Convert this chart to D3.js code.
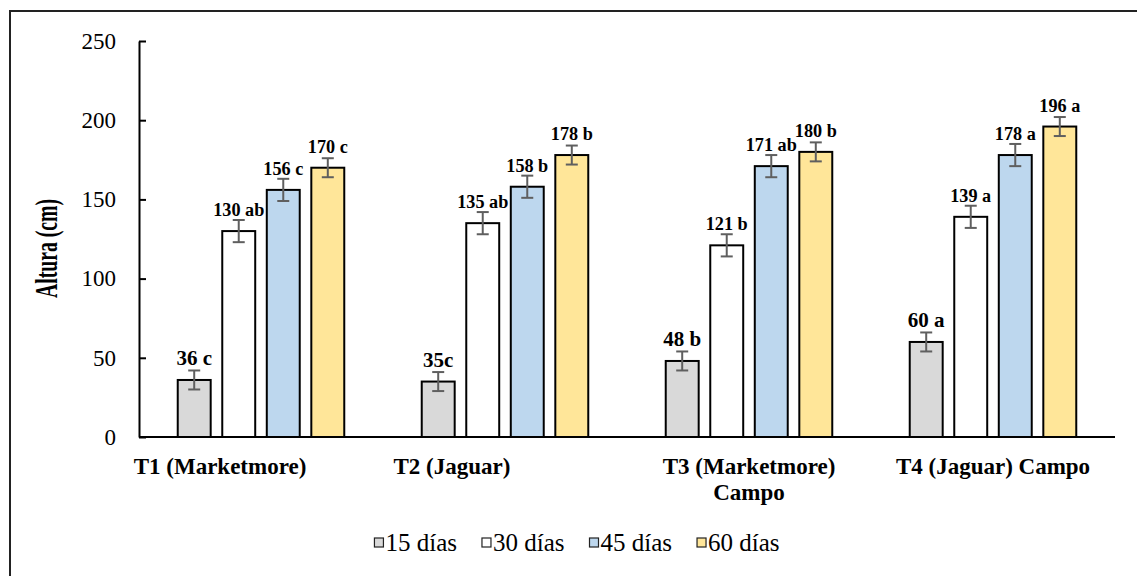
<!DOCTYPE html>
<html>
<head>
<meta charset="utf-8">
<script src="https://cdn.jsdelivr.net/npm/d3@7"></script>
<style>
  html, body { margin: 0; padding: 0; background: #fff; }
  svg { display: block; }
  svg text { font-family: "Liberation Serif", "Times New Roman", serif; fill: #000; }
</style>
</head>
<body>
<svg id="chart" width="1137" height="576"></svg>
<script>
// Treatments (x categories)
const categories = ["T1 (Marketmore)", "T2 (Jaguar)", "T3 (Marketmore) Campo", "T4 (Jaguar) Campo"];
// Sampling dates (series)
const series = ["15 días", "30 días", "45 días", "60 días"];

// Plant height (cm) per series, one value per treatment
const altura15 = [36, 35, 48, 60];
const altura30 = [130, 135, 121, 139];
const altura45 = [156, 158, 171, 178];
const altura60 = [170, 178, 180, 196];

// Standard error (cm)
const error15 = [6, 6, 6, 6];
const error30 = [7, 7, 7, 7];
const error45 = [7, 7, 7, 7];
const error60 = [6, 6, 6, 6];

// Data labels with mean separation letters
const etiquetas15 = ["36 c", "35c", "48 b", "60 a"];
const etiquetas30 = ["130 ab", "135 ab", "121 b", "139 a"];
const etiquetas45 = ["156 c", "158 b", "171 ab", "178 a"];
const etiquetas60 = ["170 c", "178 b", "180 b", "196 a"];

// Y axis ticks
const yTicks = [0, 50, 100, 150, 200, 250];

const valores = [altura15, altura30, altura45, altura60];
const errores = [error15, error30, error45, error60];
const etiquetas = [etiquetas15, etiquetas30, etiquetas45, etiquetas60];

const FONT = '"Liberation Serif", "Times New Roman", serif';
const colores = ["#d9d9d9", "#ffffff", "#bdd7ee", "#ffe699"];
const labelSize = [21, 18.2, 18.2, 18.2];

const svg = d3.select("#chart");

// chart area frame
svg.append("rect")
  .attr("x", 10).attr("y", 11)
  .attr("width", 1134).attr("height", 600)
  .attr("fill", "#fff")
  .attr("stroke", "#222").attr("stroke-width", 2);

const plot = { left: 139, right: 1115, top: 41, bottom: 437 };

const x0 = d3.scaleBand().domain(categories).range([plot.left, plot.right]).padding(0);
const x1 = d3.scaleBand().domain(series).range([0, x0.bandwidth()])
  .paddingInner(0.26).paddingOuter(0.87);
const y = d3.scaleLinear().domain([0, 250]).range([plot.bottom, plot.top]);

// rows of values for drawing
const rows = [];
series.forEach((s, si) => {
  categories.forEach((c, ci) => {
    rows.push({ s, si, c, v: valores[si][ci], e: errores[si][ci], label: etiquetas[si][ci] });
  });
});

// Y axis with inside ticks
const yAxis = d3.axisLeft(y).tickValues(yTicks).tickSizeInner(-7).tickSizeOuter(0).tickPadding(23);
const gy = svg.append("g").attr("transform", `translate(${plot.left},0)`).call(yAxis)
  .attr("font-family", null).attr("font-size", null);
gy.select(".domain").attr("stroke", "#000").attr("stroke-width", 2);
gy.selectAll(".tick line").attr("stroke", "#000").attr("stroke-width", 2);
gy.selectAll(".tick text")
  .style("font-family", FONT)
  .style("font-size", "23px")
  .attr("fill", "#000");

// Bars
svg.append("g").selectAll("rect")
  .data(rows)
  .join("rect")
  .attr("x", d => x0(d.c) + x1(d.s))
  .attr("y", d => y(d.v))
  .attr("width", x1.bandwidth())
  .attr("height", d => y(0) - y(d.v))
  .attr("fill", d => colores[d.si])
  .attr("stroke", "#000")
  .attr("stroke-width", 2);

// X axis baseline
svg.append("line")
  .attr("x1", plot.left).attr("x2", plot.right)
  .attr("y1", y(0)).attr("y2", y(0))
  .attr("stroke", "#000").attr("stroke-width", 2);

// Error bars
const eb = svg.append("g").attr("stroke", "#5f5f5f").attr("stroke-width", 2);
rows.forEach(d => {
  const cx = x0(d.c) + x1(d.s) + x1.bandwidth() / 2;
  eb.append("line").attr("x1", cx).attr("x2", cx).attr("y1", y(d.v + d.e)).attr("y2", y(d.v - d.e));
  eb.append("line").attr("x1", cx - 6).attr("x2", cx + 6).attr("y1", y(d.v + d.e)).attr("y2", y(d.v + d.e));
  eb.append("line").attr("x1", cx - 6).attr("x2", cx + 6).attr("y1", y(d.v - d.e)).attr("y2", y(d.v - d.e));
});

// Value labels
svg.append("g").selectAll("text")
  .data(rows)
  .join("text")
  .attr("x", d => x0(d.c) + x1(d.s) + x1.bandwidth() / 2)
  .attr("y", d => y(d.v) - 15)
  .attr("text-anchor", "middle")
  .style("font-family", FONT)
  .style("font-weight", "bold")
  .style("font-size", d => labelSize[d.si] + "px")
  .text(d => d.label);

// Category labels (wrapped to fit the band)
const catShift = { "T1 (Marketmore)": -41, "T2 (Jaguar)": -53 };
const wrapWidth = 215;
const gx = svg.append("g");
categories.forEach(c => {
  const t = gx.append("text")
    .attr("text-anchor", "middle")
    .style("font-family", FONT)
    .style("font-weight", "bold")
    .style("font-size", "23px");
  const cx = x0(c) + x0.bandwidth() / 2 + (catShift[c] || 0);
  const words = c.split(" ");
  let line = [];
  let lineNo = 0;
  let ts = t.append("tspan").attr("x", cx).attr("y", 474);
  words.forEach(w => {
    line.push(w);
    ts.text(line.join(" "));
    if (ts.node().getComputedTextLength() > wrapWidth && line.length > 1) {
      line.pop();
      ts.text(line.join(" "));
      line = [w];
      lineNo++;
      ts = t.append("tspan").attr("x", cx).attr("y", 474 + lineNo * 26).text(w);
    }
  });
});

// Y axis title
svg.append("text")
  .attr("transform", `translate(57,248.5) rotate(-90)`)
  .attr("text-anchor", "middle")
  .style("font-family", FONT)
  .style("font-weight", "bold")
  .style("font-size", "31px")
  .attr("textLength", 99)
  .attr("lengthAdjust", "spacingAndGlyphs")
  .text("Altura (cm)");

// Legend, centred in the chart area
const legendGap = 25;
const legend = svg.append("g");
const items = legend.selectAll("g").data(series).join("g");
items.append("rect")
  .attr("x", 0).attr("y", -4.5)
  .attr("width", 9).attr("height", 9)
  .attr("fill", (d, i) => colores[i])
  .attr("stroke", "#222").attr("stroke-width", 1.2);
items.append("text")
  .attr("x", 11).attr("y", 0).attr("dy", "0.35em")
  .style("font-family", FONT)
  .style("font-size", "25px")
  .text(d => d);
let offset = 0;
items.each(function () {
  d3.select(this).attr("transform", `translate(${offset},0)`);
  offset += this.getBBox().width + legendGap;
});
const legendWidth = offset - legendGap;
legend.attr("transform", `translate(${577 - legendWidth / 2},542.5)`);
</script>
</body>
</html>
